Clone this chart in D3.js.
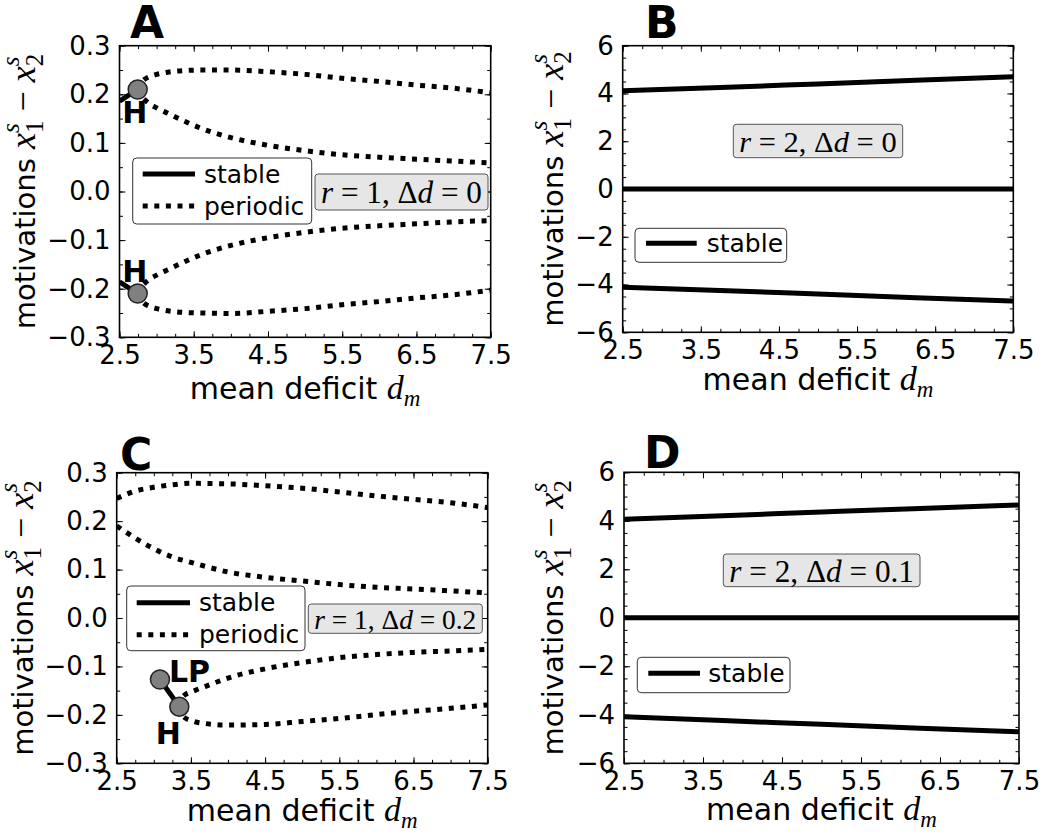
<!DOCTYPE html>
<html lang="en">
<head>
<meta charset="UTF-8">
<title>Bifurcation diagrams</title>
<script src="https://d3js.org/d3.v7.min.js"></script>
<style>
  body { margin: 0; background: #fff; }
  text { font-family: "DejaVu Sans", sans-serif; fill: #000; }
</style>
</head>
<body>
<script>
// ticks shared by the panels
const dmTicks = [2.5, 3.5, 4.5, 5.5, 6.5, 7.5];
const smallTicks = [-0.3, -0.2, -0.1, 0.0, 0.1, 0.2, 0.3];
const largeTicks = [-6, -4, -2, 0, 2, 4, 6];

// Panel A: r = 1, Δd = 0
const aStableDm = [2.5, 2.745];
const aStableUp = [0.186, 0.21];
const aStableLo = [-0.186, -0.21];
const aPerDm      = [2.745, 2.78, 2.83, 2.9, 3.0, 3.15, 3.4, 3.6, 4.0, 4.5, 5.0, 5.5, 6.0, 6.5, 7.0, 7.5];
const aPerUpOuter = [0.21, 0.222, 0.23, 0.236, 0.241, 0.2455, 0.249, 0.25, 0.25, 0.2465, 0.241, 0.233, 0.2265, 0.219, 0.2125, 0.203];
const aPerUpInner = [0.21, 0.198, 0.19, 0.181, 0.172, 0.161, 0.143, 0.13, 0.111, 0.095, 0.084, 0.0755, 0.0705, 0.0665, 0.0625, 0.059];
const aPerLoInner = [-0.21, -0.198, -0.19, -0.181, -0.172, -0.161, -0.143, -0.13, -0.111, -0.095, -0.084, -0.0755, -0.0705, -0.0665, -0.0625, -0.06];
const aPerLoOuter = [-0.21, -0.222, -0.23, -0.236, -0.241, -0.2455, -0.249, -0.25, -0.251, -0.2465, -0.241, -0.233, -0.2265, -0.219, -0.2125, -0.203];
const aHopfDm = [2.745, 2.745];
const aHopf = [0.21, -0.21];

// Panel B: r = 2, Δd = 0
const bDm = [2.5, 3.75, 5.0, 6.25, 7.5];
const bUpper = [4.11, 4.25, 4.40, 4.55, 4.70];
const bMiddle = [0, 0, 0, 0, 0];
const bLower = [-4.11, -4.25, -4.40, -4.55, -4.69];

// Panel C: r = 1, Δd = 0.2
const cPerUpDm    = [2.5, 2.75, 3.0, 3.25, 3.5, 4.0, 4.5, 5.0, 5.5, 6.0, 6.5, 7.0, 7.5];
const cPerUpOuter = [0.247, 0.262, 0.27, 0.275, 0.278, 0.277, 0.273, 0.268, 0.26, 0.252, 0.245, 0.238, 0.228];
const cPerUpInner = [0.19, 0.165, 0.143, 0.126, 0.115, 0.095, 0.084, 0.0765, 0.069, 0.0635, 0.06, 0.056, 0.052];
const cStableDm = [3.083, 3.344];
const cStable = [-0.127, -0.183];
const cPerLoDm    = [3.344, 3.40, 3.55, 3.7, 4.0, 4.5, 5.0, 5.5, 6.0, 6.5, 7.0, 7.5];
const cPerLoInner = [-0.183, -0.161, -0.15, -0.141, -0.124, -0.105, -0.092, -0.082, -0.0755, -0.071, -0.068, -0.0645];
const cPerLoOuter = [-0.183, -0.204, -0.214, -0.218, -0.221, -0.2198, -0.2137, -0.2075, -0.1995, -0.1925, -0.1865, -0.1795];
const cPointDm = [3.083, 3.344];
const cPoint = [-0.127, -0.183];

// Panel D: r = 2, Δd = 0.1
const dDm = [2.5, 3.75, 5.0, 6.25, 7.5];
const dUpper = [4.06, 4.21, 4.36, 4.51, 4.65];
const dMiddle = [0, 0, 0, 0, 0];
const dLower = [-4.08, -4.24, -4.39, -4.55, -4.70];

const W = 1048, H = 837;
const svg = d3.select("body").append("svg").attr("width", W).attr("height", H);
const dotted = "5,6.6";
const serif = "'Liberation Serif', 'DejaVu Serif', serif";

// write text made of parts (plain, italic, raised, lowered, stacked)
function addParts(text, parts) {
  let cur = 0, prevLen = 0;
  parts.forEach(p => {
    const ts = text.append("tspan").text(p.t)
      .attr("font-family", p.serif ? serif : "'DejaVu Sans', sans-serif")
      .attr("font-size", p.size)
      .attr("font-style", p.it ? "italic" : "normal");
    const off = p.dy || 0;
    if (off !== cur) ts.attr("dy", off - cur);
    if (p.back) ts.attr("dx", -prevLen);
    cur = off;
    prevLen = ts.node().getComputedTextLength();
  });
  return text;
}

function drawPanel(cfg) {
  const b = cfg.box;
  const x = d3.scaleLinear().domain([2.5, 7.5]).range([b.l, b.r]);
  const y = d3.scaleLinear().domain(cfg.yDomain).range([b.b, b.t]);
  const g = svg.append("g");
  const clipId = "clip" + cfg.id;
  g.append("clipPath").attr("id", clipId).append("rect")
    .attr("x", b.l).attr("y", b.t).attr("width", b.r - b.l).attr("height", b.b - b.t);

  // ticks: major + minor, inward, mirrored on all sides
  const xMinor = d3.range(2.5, 7.5001, 0.25);
  const yMinor = d3.range(cfg.yDomain[0], cfg.yDomain[1] + 1e-9, cfg.yMinorStep);
  const axes = [
    [d3.axisBottom(x).tickValues(dmTicks).tickFormat(d3.format(".1f")).tickPadding(8), `translate(0,${b.b})`, 6],
    [d3.axisBottom(x).tickValues(xMinor).tickFormat(""), `translate(0,${b.b})`, 3.5],
    [d3.axisTop(x).tickValues(dmTicks).tickFormat(""), `translate(0,${b.t})`, 6],
    [d3.axisTop(x).tickValues(xMinor).tickFormat(""), `translate(0,${b.t})`, 3.5],
    [d3.axisLeft(y).tickValues(cfg.yTicks).tickFormat(cfg.yFmt).tickPadding(9), `translate(${b.l},0)`, 6],
    [d3.axisLeft(y).tickValues(yMinor).tickFormat(""), `translate(${b.l},0)`, 3.5],
    [d3.axisRight(y).tickValues(cfg.yTicks).tickFormat(""), `translate(${b.r},0)`, 6],
    [d3.axisRight(y).tickValues(yMinor).tickFormat(""), `translate(${b.r},0)`, 3.5]
  ];
  axes.forEach(([ax, tr, len]) => {
    const a = g.append("g").attr("transform", tr)
      .call(ax.tickSizeInner(-len).tickSizeOuter(0));
    a.select(".domain").remove();
    a.attr("font-size", 26).attr("font-family", "'DejaVu Sans', sans-serif");
    a.selectAll("line").attr("stroke-width", 1);
  });

  const lineGen = d3.line().x(d => x(d[0])).y(d => y(d[1])).curve(d3.curveMonotoneX);
  const plot = g.append("g").attr("clip-path", `url(#${clipId})`);
  cfg.series.forEach(s => {
    plot.append("path")
      .attr("d", lineGen(d3.zip(s.dm, s.v)))
      .attr("fill", "none").attr("stroke", "#000").attr("stroke-width", 5)
      .attr("stroke-dasharray", s.periodic ? dotted : null);
  });

  if (cfg.points) {
    g.selectAll(".pt").data(d3.zip(cfg.points.dm, cfg.points.v)).enter()
      .append("circle")
      .attr("cx", d => x(d[0])).attr("cy", d => y(d[1])).attr("r", 9.5)
      .attr("fill", "#808080").attr("stroke", "#222").attr("stroke-width", 1.5);
  }
  (cfg.labels || []).forEach(l => {
    g.append("text").attr("x", x(l.dm) + l.dx).attr("y", y(l.v) + l.dy)
      .attr("font-size", 30).attr("font-weight", "bold").attr("text-anchor", l.anchor || "middle")
      .text(l.t);
  });

  g.append("rect").attr("x", b.l).attr("y", b.t).attr("width", b.r - b.l).attr("height", b.b - b.t)
    .attr("fill", "none").attr("stroke", "#000").attr("stroke-width", 1.6);

  // legend
  const L = cfg.legend;
  g.append("rect").attr("x", L.x).attr("y", L.y).attr("width", L.w).attr("height", L.h)
    .attr("rx", 4).attr("fill", "#fff").attr("stroke", "#333").attr("stroke-width", 1);
  L.items.forEach((it, i) => {
    const yy = L.row0 + i * 32;
    g.append("line").attr("x1", L.lx0).attr("x2", L.lx1).attr("y1", yy).attr("y2", yy)
      .attr("stroke", "#000").attr("stroke-width", 5)
      .attr("stroke-dasharray", it.periodic ? dotted : null);
    g.append("text").attr("x", L.tx).attr("y", yy).attr("dy", "0.35em")
      .attr("font-size", 25).text(it.name);
  });

  // parameter box
  const A = cfg.note;
  g.append("rect").attr("x", A.x).attr("y", A.y).attr("width", A.w).attr("height", A.h)
    .attr("rx", 3).attr("fill", "#e6e6e6").attr("stroke", "#555").attr("stroke-width", 1);
  const ng = g.append("g");
  const nt = ng.append("text");
  addParts(nt, [
    {t: "r", serif: 1, it: 1, size: 26},
    {t: " = " + cfg.r + ", ", serif: 1, size: 26},
    {t: "Δ", serif: 1, size: 26},
    {t: "d", serif: 1, it: 1, size: 26},
    {t: " = " + cfg.dd, serif: 1, size: 26}
  ]);
  const bb = nt.node().getBBox();
  const sc = (A.w - 12) / bb.width;
  ng.attr("transform", `translate(${A.x + A.w / 2 - sc * (bb.x + bb.width / 2)},${A.y + A.h / 2 - sc * (bb.y + bb.height / 2) + 1}) scale(${sc})`);

  // axis labels
  const xl = g.append("text").attr("x", (b.l + b.r) / 2).attr("y", cfg.xlab).attr("text-anchor", "middle");
  addParts(xl, [
    {t: "mean deficit ", size: 30},
    {t: "d", serif: 1, it: 1, size: 34},
    {t: "m", serif: 1, it: 1, size: 23, dy: 7}
  ]);
  const yl = g.append("text").attr("text-anchor", "middle")
    .attr("transform", `translate(${cfg.ylab},${(b.t + b.b) / 2}) rotate(-90)`);
  addParts(yl, [
    {t: "motivations ", size: 29},
    {t: "x", serif: 1, it: 1, size: 36},
    {t: "s", serif: 1, it: 1, size: 25, dy: -16},
    {t: "1", serif: 1, size: 25, dy: 8, back: 1},
    {t: " − ", serif: 1, size: 36},
    {t: "x", serif: 1, it: 1, size: 36},
    {t: "s", serif: 1, it: 1, size: 25, dy: -16},
    {t: "2", serif: 1, size: 25, dy: 8, back: 1}
  ]);

  g.append("text").attr("x", cfg.letter[0]).attr("y", cfg.letter[1])
    .attr("font-size", 44).attr("font-weight", "bold").text(cfg.id);
}

const fmtSmall = d3.format(".1f");
const fmtLarge = d3.format("d");

drawPanel({
  id: "A", r: 1, dd: "0",
  box: {l: 119.5, r: 490.7, t: 45.7, b: 337.3},
  yDomain: [-0.3, 0.3], yTicks: smallTicks, yMinorStep: 0.05, yFmt: fmtSmall,
  xlab: 399, ylab: 35, letter: [130, 38],
  series: [
    {dm: aStableDm, v: aStableUp},
    {dm: aStableDm, v: aStableLo},
    {dm: aPerDm, v: aPerUpOuter, periodic: 1},
    {dm: aPerDm, v: aPerUpInner, periodic: 1},
    {dm: aPerDm, v: aPerLoInner, periodic: 1},
    {dm: aPerDm, v: aPerLoOuter, periodic: 1}
  ],
  points: {dm: aHopfDm, v: aHopf},
  labels: [
    {t: "H", dm: aHopfDm[0], v: aHopf[0], dx: -3, dy: 34},
    {t: "H", dm: aHopfDm[1], v: aHopf[1], dx: -3, dy: -12}
  ],
  legend: {x: 132.7, y: 158, w: 179, h: 66, row0: 174, lx0: 142.7, lx1: 195, tx: 204,
           items: [{name: "stable"}, {name: "periodic", periodic: 1}]},
  note: {x: 315, y: 174, w: 173, h: 36}
});

drawPanel({
  id: "B", r: 2, dd: "0",
  box: {l: 622.7, r: 1013.3, t: 45.7, b: 332.3},
  yDomain: [-6, 6], yTicks: largeTicks, yMinorStep: 0.5, yFmt: fmtLarge,
  xlab: 390, ylab: 563, letter: [645, 38],
  series: [
    {dm: bDm, v: bUpper}, {dm: bDm, v: bMiddle}, {dm: bDm, v: bLower}
  ],
  legend: {x: 635, y: 228.3, w: 151.7, h: 34, row0: 243.3, lx0: 646, lx1: 696.7, tx: 706.7,
           items: [{name: "stable"}]},
  note: {x: 733.3, y: 124.3, w: 169.4, h: 33.4}
});

drawPanel({
  id: "C", r: 1, dd: "0.2",
  box: {l: 116.7, r: 487.7, t: 472.7, b: 763.3},
  yDomain: [-0.3, 0.3], yTicks: smallTicks, yMinorStep: 0.05, yFmt: fmtSmall,
  xlab: 821, ylab: 33, letter: [120, 470],
  series: [
    {dm: cPerUpDm, v: cPerUpOuter, periodic: 1},
    {dm: cPerUpDm, v: cPerUpInner, periodic: 1},
    {dm: cStableDm, v: cStable},
    {dm: cPerLoDm, v: cPerLoInner, periodic: 1},
    {dm: cPerLoDm, v: cPerLoOuter, periodic: 1}
  ],
  points: {dm: cPointDm, v: cPoint},
  labels: [
    {t: "LP", dm: cPointDm[0], v: cPoint[0], dx: 9, dy: 2.5, anchor: "start"},
    {t: "H", dm: cPointDm[1], v: cPoint[1], dx: -11, dy: 37}
  ],
  legend: {x: 126.7, y: 586, w: 178.3, h: 64.7, row0: 602.7, lx0: 136.7, lx1: 190, tx: 199,
           items: [{name: "stable"}, {name: "periodic", periodic: 1}]},
  note: {x: 308.3, y: 604, w: 174, h: 29.3}
});

drawPanel({
  id: "D", r: 2, dd: "0.1",
  box: {l: 624, r: 1019, t: 472.3, b: 763.3},
  yDomain: [-6, 6], yTicks: largeTicks, yMinorStep: 0.5, yFmt: fmtLarge,
  xlab: 820, ylab: 563, letter: [644, 468],
  series: [
    {dm: dDm, v: dUpper}, {dm: dDm, v: dMiddle}, {dm: dDm, v: dLower}
  ],
  legend: {x: 637.3, y: 657.3, w: 152.7, h: 35.4, row0: 673.3, lx0: 648.3, lx1: 700, tx: 708.3,
           items: [{name: "stable"}]},
  note: {x: 723.3, y: 554, w: 196.7, h: 32.7}
});
</script>
</body>
</html>
